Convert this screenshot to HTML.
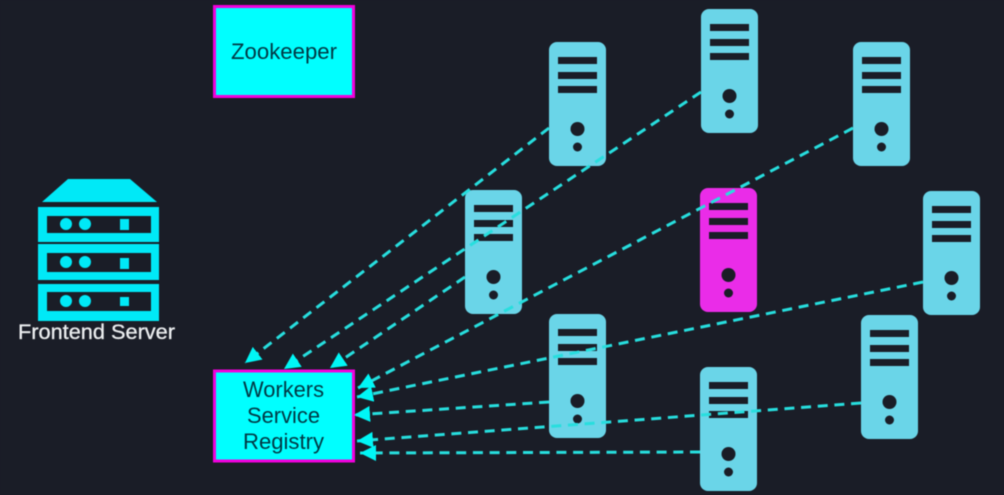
<!DOCTYPE html>
<html>
<head>
<meta charset="utf-8">
<style>
html,body{margin:0;padding:0;background:#1a1d27;width:1004px;height:495px;overflow:hidden}
svg{display:block;filter:blur(0.55px)}
</style>
</head>
<body>
<svg width="1004" height="495" viewBox="0 0 1004 495" xmlns="http://www.w3.org/2000/svg">
<defs>
<marker id="a" markerUnits="userSpaceOnUse" markerWidth="18" markerHeight="18" refX="16" refY="8" orient="auto">
<path d="M0 0L16 8L0 16Z" fill="#00f6f6"/>
</marker>
<g id="s">
<rect x="0" y="0" width="57" height="124" rx="8" fill="currentColor"/>
<rect x="9" y="15" width="39" height="7" fill="#1a1d27"/>
<rect x="9" y="30" width="39" height="7" fill="#1a1d27"/>
<rect x="9" y="44" width="39" height="7" fill="#1a1d27"/>
<circle cx="28.5" cy="87" r="7" fill="#1a1d27"/>
<circle cx="28.5" cy="105" r="4.5" fill="#1a1d27"/>
</g>
</defs>
<rect width="1004" height="495" fill="#1a1d27"/>

<!-- Frontend server -->
<g fill="#00e9f7">
<path d="M68 179H130L157 202H42Z"/>
<path fill-rule="evenodd" d="M38 207H159V242H38ZM47 216V233H151V216Z"/>
<path fill-rule="evenodd" d="M38 244H159V280H38ZM47 253V272H151V253Z"/>
<path fill-rule="evenodd" d="M38 284H159V321H38ZM47 292V311H151V292Z"/>
<circle cx="66" cy="224" r="6"/><circle cx="85" cy="224" r="6"/><rect x="120" y="219" width="9" height="11"/>
<circle cx="66" cy="262" r="6"/><circle cx="85" cy="262" r="6"/><rect x="120" y="258" width="9" height="11"/>
<circle cx="66" cy="301" r="6"/><circle cx="85" cy="301" r="6"/><rect x="120" y="297" width="9" height="9"/>
</g>
<text x="18" y="339" font-family="'Liberation Sans',sans-serif" font-size="21" fill="#eceef0" stroke="#eceef0" stroke-width="0.3" textLength="157" lengthAdjust="spacingAndGlyphs">Frontend Server</text>

<!-- Boxes -->
<rect x="214.5" y="6.5" width="139" height="90" fill="#00ffff" stroke="#f000dc" stroke-width="3"/>
<text x="231" y="59" font-family="'Liberation Sans',sans-serif" font-size="22.500" fill="#003844" textLength="106" lengthAdjust="spacingAndGlyphs">Zookeeper</text>
<rect x="214.5" y="371" width="139" height="90" fill="#00ffff" stroke="#f000dc" stroke-width="3"/>
<g font-family="'Liberation Sans',sans-serif" font-size="22.500" fill="#003844">
<text x="243" y="397" textLength="81" lengthAdjust="spacingAndGlyphs">Workers</text>
<text x="247" y="423" textLength="73" lengthAdjust="spacingAndGlyphs">Service</text>
<text x="243" y="449" textLength="81" lengthAdjust="spacingAndGlyphs">Registry</text>
</g>

<!-- Servers -->
<g color="#6ad5e8">
<use href="#s" x="549" y="42"/>
<use href="#s" x="701" y="9"/>
<use href="#s" x="853" y="42"/>
<use href="#s" x="465" y="190"/>
<use href="#s" x="923" y="191"/>
<use href="#s" x="549" y="314"/>
<use href="#s" x="700" y="367"/>
<use href="#s" x="861" y="315"/>
</g>
<use href="#s" x="700" y="188" color="#ea2ce8"/>

<!-- Connectors -->
<g stroke="#27dede" stroke-width="3" stroke-dasharray="10 6.7" fill="none">
<path d="M549 128L245 363" marker-end="url(#a)"/>
<path d="M701 92L284 369" marker-end="url(#a)"/>
<path d="M465 277L330 368" marker-end="url(#a)"/>
<path d="M853 128L358 388" marker-end="url(#a)"/>
<path d="M923 282L357 397" marker-end="url(#a)"/>
<path d="M549 402L354 415" marker-end="url(#a)"/>
<path d="M861 403L357 441" marker-end="url(#a)"/>
<path d="M700 452L360 453" marker-end="url(#a)"/>
</g>
</svg>
</body>
</html>
